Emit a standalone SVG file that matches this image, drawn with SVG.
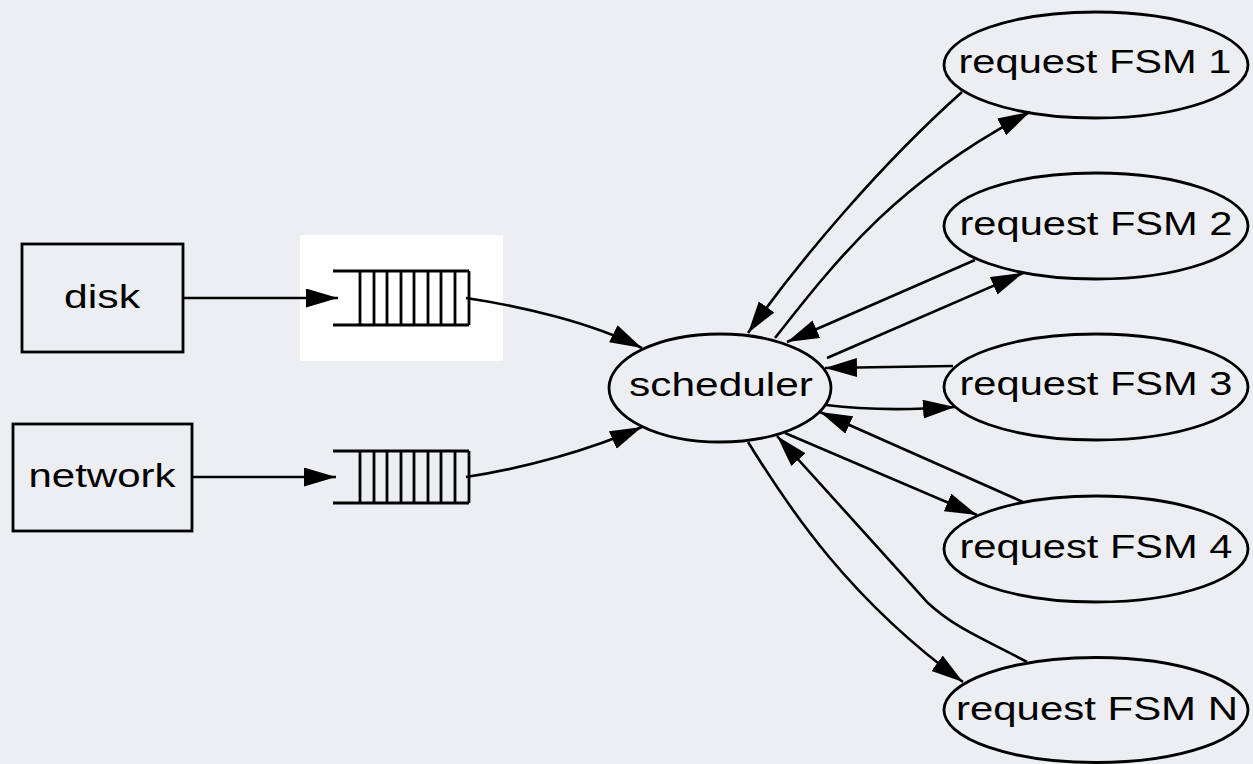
<svg xmlns="http://www.w3.org/2000/svg" width="1253" height="764" viewBox="0 0 1253 764">
<defs>
<style>
.bg{fill:#edeef1}
.shape{fill:none;stroke:#000;stroke-width:2.8}
.q{fill:none;stroke:#000;stroke-width:2.8}
.edge{fill:none;stroke:#000;stroke-width:2.6}
.lbl{font-family:"Liberation Sans",Arial,sans-serif;font-size:34px;fill:#000;text-anchor:middle}
</style>
<marker id="arr" markerUnits="userSpaceOnUse" markerWidth="34" markerHeight="20" refX="32" refY="9.5" orient="auto" viewBox="0 0 34 20">
<path d="M0,0 L32,9.5 L0,19 z" fill="#000"/>
</marker>
</defs>
<rect class="bg" x="0" y="0" width="1253" height="764"/>
<rect x="300" y="235" width="203" height="126" fill="#ffffff"/>

<g id="disk">
<rect class="shape" x="22" y="244" width="161" height="108"/>
<text class="lbl" x="102" y="308" textLength="76" lengthAdjust="spacingAndGlyphs">disk</text>
</g>
<g id="network">
<rect class="shape" x="13" y="424" width="179" height="107"/>
<text class="lbl" x="102" y="487" textLength="147" lengthAdjust="spacingAndGlyphs">network</text>
</g>
<g id="queue1">
<path class="q" d="M333,271 H469 M333,325 H469 M360,271 V325 M374,271 V325 M387,271 V325 M401,271 V325 M414,271 V325 M428,271 V325 M441,271 V325 M455,271 V325 M469,271 V325"/>
</g>
<g id="queue2">
<path class="q" d="M333,451 H469 M333,503 H469 M360,451 V503 M374,451 V503 M387,451 V503 M401,451 V503 M414,451 V503 M428,451 V503 M441,451 V503 M455,451 V503 M469,451 V503"/>
</g>
<g id="scheduler">
<ellipse class="shape" cx="720" cy="388" rx="111" ry="54"/>
<text class="lbl" x="721" y="396" textLength="184" lengthAdjust="spacingAndGlyphs">scheduler</text>
</g>
<g id="fsm1">
<ellipse class="shape" cx="1096" cy="65" rx="152" ry="53"/>
<text class="lbl" x="1095" y="73" textLength="273" lengthAdjust="spacingAndGlyphs">request FSM 1</text>
</g>
<g id="fsm2">
<ellipse class="shape" cx="1096" cy="226" rx="152" ry="53"/>
<text class="lbl" x="1096" y="235" textLength="273" lengthAdjust="spacingAndGlyphs">request FSM 2</text>
</g>
<g id="fsm3">
<ellipse class="shape" cx="1096" cy="387" rx="152" ry="53"/>
<text class="lbl" x="1096" y="395" textLength="273" lengthAdjust="spacingAndGlyphs">request FSM 3</text>
</g>
<g id="fsm4">
<ellipse class="shape" cx="1096" cy="549" rx="152" ry="53"/>
<text class="lbl" x="1096" y="558" textLength="273" lengthAdjust="spacingAndGlyphs">request FSM 4</text>
</g>
<g id="fsmN">
<ellipse class="shape" cx="1096" cy="710" rx="152" ry="52.5"/>
<text class="lbl" x="1097" y="720" textLength="282" lengthAdjust="spacingAndGlyphs">request FSM N</text>
</g>

<g id="connectors">
<path class="edge" marker-end="url(#arr)" d="M183,298 L338,298"/>
<path class="edge" marker-end="url(#arr)" d="M192,477 L336,477"/>
<path class="edge" marker-end="url(#arr)" d="M466,298 C520,306 590,322 642,348"/>
<path class="edge" marker-end="url(#arr)" d="M466,477 C525,468 590,450 642,427"/>
<path class="edge" marker-end="url(#arr)" d="M962,92 C880,165 800,260 748,333"/>
<path class="edge" marker-end="url(#arr)" d="M775,338 C840,255 900,180 1030,112"/>
<path class="edge" marker-end="url(#arr)" d="M975,260 L787,342"/>
<path class="edge" marker-end="url(#arr)" d="M827,358 L1023,273"/>
<path class="edge" marker-end="url(#arr)" d="M953,366 L825,368"/>
<path class="edge" marker-end="url(#arr)" d="M826,405 Q880,412 955,407"/>
<path class="edge" marker-end="url(#arr)" d="M1023,502 L820,412"/>
<path class="edge" marker-end="url(#arr)" d="M785,433 L977,515"/>
<path class="edge" marker-end="url(#arr)" d="M1027,662 C982,638 955,628 928,603 L777,436"/>
<path class="edge" marker-end="url(#arr)" d="M748,442 C790,510 850,600 963,682"/>
</g>
</svg>
